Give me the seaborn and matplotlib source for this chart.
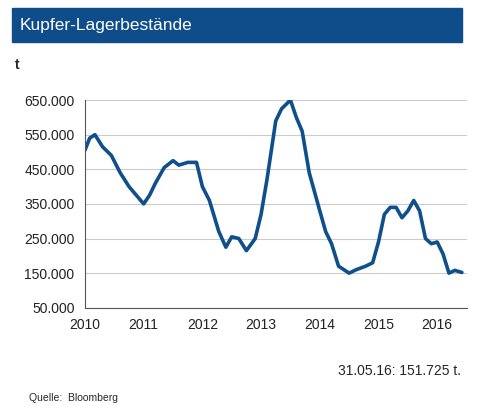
import matplotlib
matplotlib.use("Agg")
import matplotlib.pyplot as plt
import seaborn as sns
import pandas as pd

sns.set_style("white")
plt.rcParams['font.family'] = ['Liberation Sans', 'DejaVu Sans']

years = [2010.0, 2010.08, 2010.17, 2010.3, 2010.45, 2010.6, 2010.75, 2010.9, 2011.0, 2011.1, 2011.2, 2011.35,
         2011.5, 2011.6, 2011.75, 2011.9, 2012.0, 2012.12, 2012.28, 2012.4, 2012.5, 2012.62, 2012.75, 2012.9,
         2013.0, 2013.1, 2013.25, 2013.35, 2013.5, 2013.6, 2013.7, 2013.82, 2014.0, 2014.1, 2014.2, 2014.32,
         2014.5, 2014.62, 2014.78, 2014.9, 2015.0, 2015.1, 2015.2, 2015.3, 2015.4, 2015.5, 2015.6, 2015.7,
         2015.8, 2015.9, 2016.0, 2016.1, 2016.2, 2016.3, 2016.42]
stocks = [505, 540, 550, 515, 490, 440, 400, 370, 350, 375, 410, 455,
          475, 462, 470, 470, 400, 360, 270, 225, 255, 250, 215, 250,
          320, 420, 590, 625, 650, 600, 560, 440, 330, 270, 235, 170,
          150, 160, 170, 180, 240, 320, 340, 340, 310, 330, 360, 330,
          250, 235, 240, 205, 150, 158, 152]
df = pd.DataFrame({"year": years, "stock": [s * 1000 for s in stocks]})
yticks = [50000, 150000, 250000, 350000, 450000, 550000, 650000]
ylabels = ["50.000", "150.000", "250.000", "350.000", "450.000", "550.000", "650.000"]
xticks = [2010, 2011, 2012, 2013, 2014, 2015, 2016]

fig = plt.figure(figsize=(4.8, 4.17), dpi=100)
ax = fig.add_axes([0.177, 0.262, 0.795, 0.498])
sns.lineplot(data=df, x="year", y="stock", ax=ax, color="#0f4f8c", linewidth=2.6)
ax.set_xlim(2010, 2016.5)
ax.set_ylim(50000, 650000)
ax.set_yticks(yticks, ylabels)
ax.set_xticks(xticks, [str(x) for x in xticks])
ax.tick_params(labelsize=10, length=4, colors="#222222")
ax.grid(axis="y", color="#cccccc", linewidth=0.8)
ax.set_xlabel(""); ax.set_ylabel("")
for s in ["top", "right"]:
    ax.spines[s].set_visible(False)
for s in ["left", "bottom"]:
    ax.spines[s].set_color("#555555")

fig.patches.append(plt.Rectangle((0.025, 0.9), 0.937, 0.08, transform=fig.transFigure,
                                 color="#0f4c8a", zorder=0))
fig.text(0.04, 0.94, "Kupfer-Lagerbestände", color="white", fontsize=12.5, va="center")
fig.text(0.03, 0.845, "t", fontsize=10, fontweight="bold", va="center")
fig.text(0.96, 0.11, "31.05.16: 151.725 t.", fontsize=10, ha="right", va="center")
fig.text(0.06, 0.045, "Quelle:  Bloomberg", fontsize=7.5, va="center")
fig.savefig("out.png", dpi=100)
